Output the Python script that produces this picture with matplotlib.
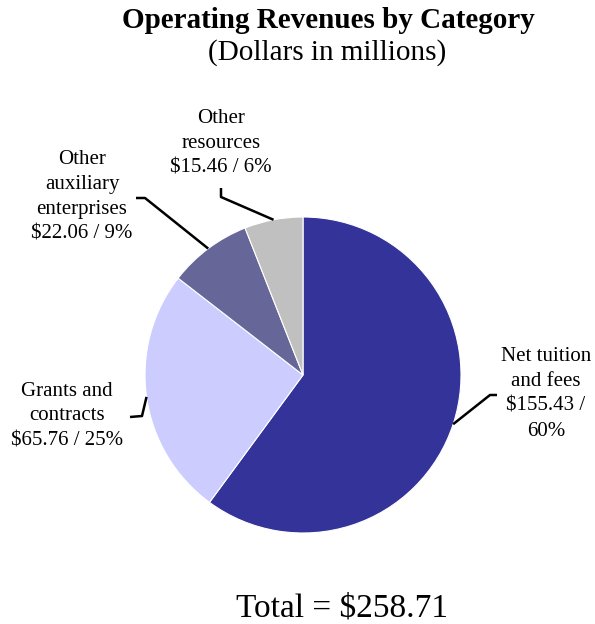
import numpy as np
import matplotlib.pyplot as plt

plt.rcParams['font.family'] = ['Liberation Serif', 'DejaVu Serif']

# Data
categories = ['Net tuition\nand fees', 'Grants and\ncontracts',
              'Other\nauxiliary\nenterprises', 'Other\nresources']
values = [155.43, 65.76, 22.06, 15.46]
pcts = ['60%', '25%', '9%', '6%']
total = 258.71
colors = ['#333399', '#CCCCFF', '#666699', '#C0C0C0']

fig = plt.figure(figsize=(5.95, 6.24), dpi=100)
ax = fig.add_axes([0, 0, 1, 1])

cx, cy, r = 303, 249, 158
wedges, _ = ax.pie(values, colors=colors, startangle=90, counterclock=False,
                   center=(cx, cy), radius=r, frame=True,
                   wedgeprops=dict(edgecolor='white', linewidth=0.8))
ax.set_xlim(0, 595)
ax.set_ylim(0, 624)
ax.set_aspect('equal')
ax.axis('off')

# label text, label anchor, leader bend point, leader end
labels = [
    'Net tuition\nand fees\n$%.2f /\n%s' % (values[0], pcts[0]),
    'Grants and\ncontracts\n$%.2f / %s' % (values[1], pcts[1]),
    'Other\nauxiliary\nenterprises\n$%.2f / %s' % (values[2], pcts[2]),
    'Other\nresources\n$%.2f / %s' % (values[3], pcts[3]),
]
label_pos = [(546, 230), (67, 208), (82, 427), (221, 481)]
bends = [(490, 229), (142, 208), (145, 426), (221, 427)]
ends = [(497, 229), (130, 207), (136, 426), (221, 436)]

for w, lab, lp, b, e in zip(wedges, labels, label_pos, bends, ends):
    ang = np.deg2rad((w.theta1 + w.theta2) / 2)
    px = cx + r * np.cos(ang)
    py = cy + r * np.sin(ang)
    ax.plot([px, b[0], e[0]], [py, b[1], e[1]], color='black', lw=1.8,
            solid_capstyle='butt')
    ax.text(lp[0], lp[1], lab, ha='center', va='center', fontsize=15,
            linespacing=1.42)

ax.text(328, 603, 'Operating Revenues by Category', ha='center', va='center',
        fontsize=21, fontweight='bold')
ax.text(327, 571, '(Dollars in millions)', ha='center', va='center', fontsize=21)
ax.text(342, 16, 'Total = $%.2f' % total, ha='center', va='center', fontsize=24)

fig.savefig('out.png', dpi=100)
